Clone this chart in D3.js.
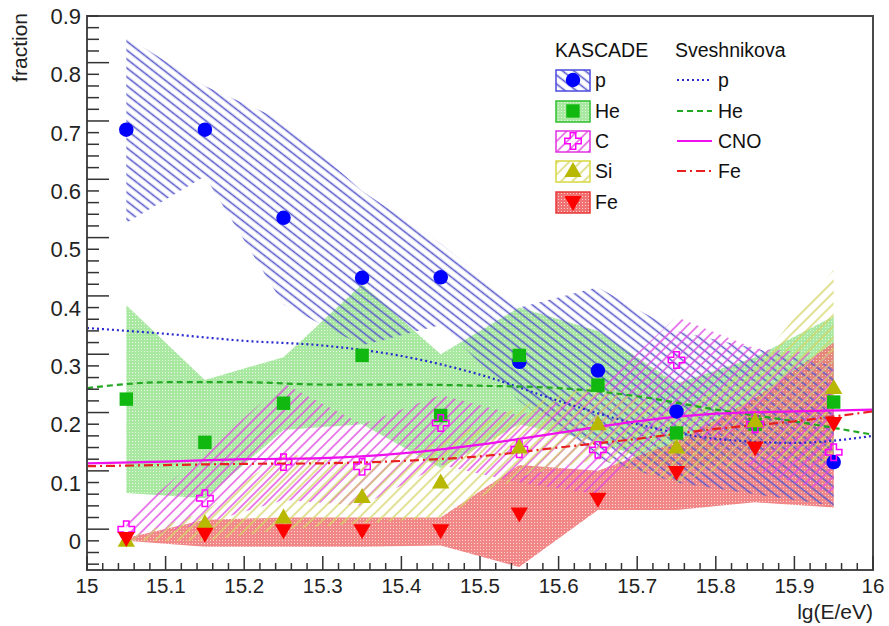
<!DOCTYPE html>
<html>
<head>
<meta charset="utf-8">
<script src="https://cdn.jsdelivr.net/npm/d3@7"></script>
<style>
  body { margin: 0; background: #fff; }
  svg { display: block; font-family: "Liberation Sans", Arial, sans-serif; }
</style>
</head>
<body>
<svg id="chart" width="889" height="626"></svg>
<script>
// KASCADE unfolding: energy bin centres and fractions
var energies = [15.05, 15.15, 15.25, 15.35, 15.45, 15.55, 15.65, 15.75, 15.85, 15.95];

var pValues  = [0.705, 0.705, 0.554, 0.451, 0.452, 0.307, 0.292, 0.222, 0.200, 0.135];
var heValues = [0.243, 0.169, 0.236, 0.318, 0.215, 0.318, 0.267, 0.185, 0.200, 0.238];
var cValues  = [0.020, 0.073, 0.135, 0.127, 0.202, 0.157, 0.156, 0.310, 0.200, 0.152];
var siValues = [0.000, 0.030, 0.040, 0.075, 0.100, 0.160, 0.200, 0.160, 0.205, 0.262];
var feValues = [0.005, 0.012, 0.018, 0.018, 0.018, 0.047, 0.072, 0.118, 0.160, 0.202];

// systematic bands (upper / lower)
var pUpper  = [0.865, 0.780, 0.720, 0.600, 0.510, 0.400, 0.435, 0.360, 0.330, 0.300];
var pLower  = [0.545, 0.625, 0.405, 0.335, 0.370, 0.240, 0.140, 0.100, 0.080, 0.060];
var heUpper = [0.404, 0.276, 0.315, 0.440, 0.320, 0.400, 0.360, 0.270, 0.315, 0.385];
var heLower = [0.082, 0.073, 0.190, 0.200, 0.125, 0.200, 0.170, 0.120, 0.150, 0.130];
var cUpper  = [0.035, 0.152, 0.270, 0.200, 0.250, 0.215, 0.260, 0.384, 0.330, 0.320];
var cLower  = [0.000, 0.030, 0.070, 0.060, 0.130, 0.100, 0.080, 0.200, 0.120, 0.080];
var siUpper = [0.005, 0.050, 0.150, 0.130, 0.170, 0.230, 0.270, 0.220, 0.300, 0.465];
var siLower = [0.000, 0.000, 0.020, 0.030, 0.040, 0.110, 0.140, 0.100, 0.140, 0.130];
var feUpper = [0.005, 0.036, 0.040, 0.040, 0.040, 0.130, 0.120, 0.170, 0.245, 0.340];
var feLower = [0.000, -0.010, -0.010, -0.010, -0.008, -0.045, 0.053, 0.053, 0.066, 0.057];

// Sveshnikova model curves
var modelEnergies = [15.0, 15.1, 15.2, 15.3, 15.4, 15.5, 15.6, 15.7, 15.8, 15.9, 16.0];
var modelP   = [0.365, 0.355, 0.343, 0.335, 0.317, 0.285, 0.240, 0.200, 0.175, 0.168, 0.180];
var modelHe  = [0.262, 0.272, 0.272, 0.268, 0.268, 0.266, 0.262, 0.248, 0.225, 0.205, 0.182];
var modelCNO = [0.133, 0.136, 0.140, 0.142, 0.150, 0.165, 0.185, 0.205, 0.218, 0.222, 0.225];
var modelFe  = [0.128, 0.130, 0.132, 0.133, 0.137, 0.145, 0.160, 0.175, 0.192, 0.205, 0.222];

var xTicks = [15, 15.1, 15.2, 15.3, 15.4, 15.5, 15.6, 15.7, 15.8, 15.9, 16];
var yTicks = [0, 0.1, 0.2, 0.3, 0.4, 0.5, 0.6, 0.7, 0.8, 0.9];

var svg = d3.select('#chart');
var frameLeft = 87, frameRight = 873, frameTop = 16, frameBottom = 570;

var x = d3.scaleLinear().domain([15, 16]).range([frameLeft, frameRight]);
var y = d3.scaleLinear().domain([-0.05, 0.9]).range([frameBottom, frameTop]);

var defs = svg.append('defs');

// hatched fill: parallel lines rotated by angle
function hatch(id, color, angle, gap, width) {
    var p = defs.append('pattern').attr('id', id).attr('patternUnits', 'userSpaceOnUse')
        .attr('width', gap).attr('height', gap).attr('patternTransform', 'rotate(' + angle + ')');
    p.append('line').attr('x1', 0).attr('x2', gap).attr('y1', gap / 2).attr('y2', gap / 2)
        .attr('stroke', color).attr('stroke-width', width);
}
// dotted fill: coloured background with a fine white grid of dots
function dotted(id, bg, dot) {
    var p = defs.append('pattern').attr('id', id).attr('patternUnits', 'userSpaceOnUse')
        .attr('width', 3).attr('height', 3);
    p.append('rect').attr('width', 3).attr('height', 3).attr('fill', bg);
    p.append('rect').attr('width', 1).attr('height', 1).attr('fill', dot);
}
hatch('hatchP', '#5a5acc', 38, 7, 1.6);
hatch('hatchC', '#e24ae2', -45, 7.5, 1.4);
hatch('hatchSi', '#d4d464', -45, 8, 1.4);
dotted('dotsHe', '#a8e8a0', '#e6f8e2');
dotted('dotsFe', '#f07272', '#fbd0d0');

defs.append('clipPath').attr('id', 'plotClip').append('rect')
    .attr('x', frameLeft).attr('y', frameTop)
    .attr('width', frameRight - frameLeft).attr('height', frameBottom - frameTop);

var species = [
    { name: 'p',  values: pValues,  upper: pUpper,  lower: pLower,  fill: 'url(#hatchP)',  edge: '#4a4ae0', color: '#0000ff', symbol: 'circle' },
    { name: 'He', values: heValues, upper: heUpper, lower: heLower, fill: 'url(#dotsHe)',  edge: '#30c030', color: '#10b810', symbol: 'square' },
    { name: 'C',  values: cValues,  upper: cUpper,  lower: cLower,  fill: 'url(#hatchC)',  edge: '#e030e0', color: '#ff00ff', symbol: 'cross' },
    { name: 'Si', values: siValues, upper: siUpper, lower: siLower, fill: 'url(#hatchSi)', edge: '#d8d840', color: '#b8b800', symbol: 'up' },
    { name: 'Fe', values: feValues, upper: feUpper, lower: feLower, fill: 'url(#dotsFe)',  edge: '#e83a3a', color: '#ff0000', symbol: 'down' }
];
var byName = {};
species.forEach(function (s) { byName[s.name] = s; });

var models = [
    { name: 'p',   values: modelP,   color: '#2a2ad0', dash: '2,3' },
    { name: 'He',  values: modelHe,  color: '#22a822', dash: '6,4' },
    { name: 'CNO', values: modelCNO, color: '#ee10ee', dash: null },
    { name: 'Fe',  values: modelFe,  color: '#e82020', dash: '9,4,2,4' }
];

var plot = svg.append('g').attr('clip-path', 'url(#plotClip)');

// bands: fills underneath, hatches on top
var area = d3.area()
    .x(function (d) { return x(d.e); })
    .y0(function (d) { return y(d.lo); })
    .y1(function (d) { return y(d.hi); });

function bandData(s) {
    return energies.map(function (e, i) { return { e: e, lo: s.lower[i], hi: s.upper[i] }; });
}

['He', 'Fe', 'p', 'C', 'Si'].forEach(function (n) {
    var s = byName[n];
    plot.append('path').datum(bandData(s)).attr('d', area)
        .attr('fill', s.fill).attr('opacity', n === 'Fe' ? 0.85 : 1);
});

// model curves
var line = d3.line()
    .x(function (d, i) { return x(modelEnergies[i]); })
    .y(function (d) { return y(d); })
    .curve(d3.curveMonotoneX);

models.forEach(function (m) {
    plot.append('path').datum(m.values).attr('d', line)
        .attr('fill', 'none').attr('stroke', m.color).attr('stroke-width', 2.2)
        .attr('stroke-dasharray', m.dash);
});

// markers
function marker(sel, kind, color) {
    var gen = d3.symbol();
    if (kind === 'circle') {
        sel.append('path').attr('d', gen.type(d3.symbolCircle).size(165)()).attr('fill', color);
    } else if (kind === 'square') {
        sel.append('path').attr('d', gen.type(d3.symbolSquare).size(180)()).attr('fill', color);
    } else if (kind === 'cross') {
        sel.append('path').attr('d', gen.type(d3.symbolCross).size(150)()).attr('fill', 'none')
            .attr('stroke', color).attr('stroke-width', 1.5);
    } else if (kind === 'up') {
        sel.append('path').attr('d', gen.type(d3.symbolTriangle).size(130)()).attr('fill', color)
            .attr('transform', 'translate(0,1)');
    } else {
        sel.append('path').attr('d', gen.type(d3.symbolTriangle).size(130)()).attr('fill', color)
            .attr('transform', 'translate(0,-1) rotate(180)');
    }
}

['p', 'He', 'C', 'Si', 'Fe'].forEach(function (n) {
    var s = byName[n];
    plot.append('g').selectAll('g').data(s.values).join('g')
        .attr('transform', function (d, i) { return 'translate(' + x(energies[i]) + ',' + y(d) + ')'; })
        .each(function () { marker(d3.select(this), s.symbol, s.color); });
});

// frame
svg.append('rect').attr('x', frameLeft).attr('y', frameTop)
    .attr('width', frameRight - frameLeft).attr('height', frameBottom - frameTop)
    .attr('fill', 'none').attr('stroke', '#4a4a4a').attr('stroke-width', 2);

// x axis ticks (pointing inwards)
var axisColor = '#333';
var xMinor = d3.range(0, 51).map(function (i) { return 15 + i * 0.02; });
svg.append('g').selectAll('line').data(xMinor).join('line')
    .attr('x1', function (d) { return x(d); }).attr('x2', function (d) { return x(d); })
    .attr('y1', frameBottom).attr('y2', function (d, i) { return frameBottom - (i % 5 === 0 ? 14 : 7); })
    .attr('stroke', axisColor).attr('stroke-width', 1.5);
svg.append('g').selectAll('text').data(xTicks).join('text')
    .attr('x', function (d) { return x(d); }).attr('y', 593)
    .attr('text-anchor', 'middle').attr('font-size', 20.5).attr('fill', '#222')
    .text(function (d) { return d3.format('~g')(d); });

// y axis ticks
var yMinor = d3.range(-2, 46).map(function (i) { return i * 0.02; });
svg.append('g').selectAll('line').data(yMinor).join('line')
    .attr('y1', function (d) { return y(d); }).attr('y2', function (d) { return y(d); })
    .attr('x1', frameLeft).attr('x2', function (d, i) { return frameLeft + ((i + 2) % 5 === 0 ? 22 : 12); })
    .attr('stroke', axisColor).attr('stroke-width', 1.5);
svg.append('g').selectAll('text').data(yTicks).join('text')
    .attr('x', 81).attr('y', function (d) { return y(d) + 8; })
    .attr('text-anchor', 'end').attr('font-size', 22).attr('fill', '#222')
    .text(function (d) { return d3.format('~g')(d); });

// axis titles
svg.append('text').attr('transform', 'translate(27,13) rotate(-90)')
    .attr('text-anchor', 'end').attr('font-size', 21).attr('fill', '#222').text('fraction');
svg.append('text').attr('x', 873).attr('y', 619)
    .attr('text-anchor', 'end').attr('font-size', 21).attr('fill', '#222').text('lg(E/eV)');

// legend
var legend = svg.append('g');
legend.append('text').attr('x', 555).attr('y', 57).attr('font-size', 19.5).attr('fill', '#111').text('KASCADE');
legend.append('text').attr('x', 675).attr('y', 57).attr('font-size', 19.5).attr('fill', '#111').text('Sveshnikova');

var rowY = [80, 111, 141, 171, 202];
species.forEach(function (s, i) {
    var g = legend.append('g').attr('transform', 'translate(0,' + rowY[i] + ')');
    g.append('rect').attr('x', 556).attr('y', -10).attr('width', 34).attr('height', 21)
        .attr('fill', s.fill).attr('stroke', s.edge).attr('stroke-width', 1.5);
    var m = g.append('g').attr('transform', 'translate(573,0)');
    marker(m, s.symbol, s.color);
    g.append('text').attr('x', 595).attr('y', 7).attr('font-size', 19.5).attr('fill', '#111').text(s.name);
});

models.forEach(function (m, i) {
    var g = legend.append('g').attr('transform', 'translate(0,' + rowY[i] + ')');
    g.append('line').attr('x1', 677).attr('x2', 712).attr('y1', 0).attr('y2', 0)
        .attr('stroke', m.color).attr('stroke-width', 2).attr('stroke-dasharray', m.dash);
    g.append('text').attr('x', 718).attr('y', 7).attr('font-size', 19.5).attr('fill', '#111').text(m.name);
});
</script>
</body>
</html>
